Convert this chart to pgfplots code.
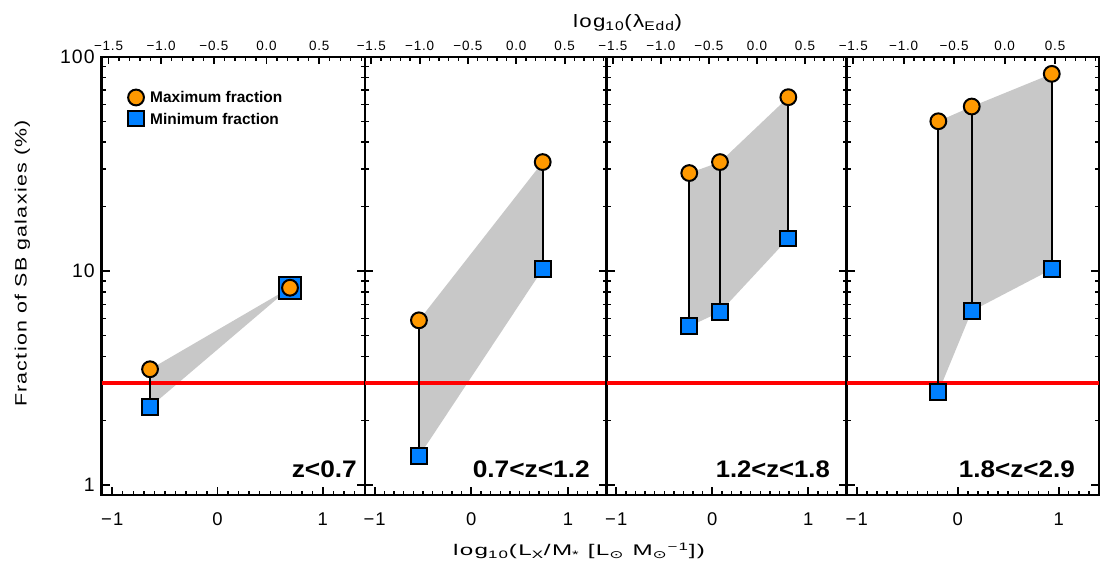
\documentclass[border=0pt]{standalone}
\usepackage{fontspec}
\usepackage{graphicx}
\usepackage{pgfplots}
\pgfplotsset{compat=1.18}
\setmainfont{Liberation Sans}
\newfontfamily\idl[LetterSpace=6]{Liberation Sans}
\newfontfamily\djv{DejaVu Sans}
\definecolor{mkorange}{RGB}{255,153,0}
\definecolor{mkblue}{RGB}{0,128,255}
\definecolor{fillgray}{RGB}{200,200,200}
\newcommand{\fs}[1]{\fontsize{#1}{#1}\selectfont}
\newcommand{\fitw}[2]{\resizebox{#1}{\height}{#2}}
\tikzset{
  maxmk/.style={mark=*, mark size=7.9bp, mark options={fill=mkorange, draw=black, line width=2bp}},
  minmk/.style={mark=square*, mark size=7.9bp, mark options={fill=mkblue, draw=black, line width=2bp}},
  conn/.style={black, line width=1.8bp},
  shadearea/.style={fill=fillgray, draw=none},
  redline/.style={red, line width=3.5bp},
  plab/.style={anchor=base east, inner sep=0pt, font=\bfseries\fs{24}},
  leglab/.style={anchor=west, inner sep=0pt, font=\bfseries\fs{15.5}},
}
\begin{document}
\begin{tikzpicture}[x=1bp,y=1bp]
\path[use as bounding box] (-101.7,-77) rectangle (1003.3,495);
\begin{scope}
\pgfplotsset{every axis/.append style={
    scale only axis, height=438bp, xmin=-1.1, xmax=1.4,
    ymode=log, ymin=0.9, ymax=100,
    axis line style={line width=2.5bp},
    xtick={-1,0,1}, xticklabels={−1,0,1},
    minor xtick={-1.1,-1,...,1.41},
    ytick={1,10,100}, yticklabels={},
    minor ytick={2,3,...,9,20,30,...,90},
    xtick pos=left, ytick pos=both,
    tick align=inside,
    major tick length=8bp, minor tick length=4bp,
    every major tick/.append style={black, line width=1.8bp},
    every minor tick/.append style={black, line width=1.4bp},
    xticklabel style={font=\idl\fs{18.5}, yshift=-14bp},
    yticklabel style={font=\idl\fs{19.5}, xshift=-3.4bp},
    anchor=south west,
}}
% ---------- Panel 1 ----------
\begin{axis}[name=p1, width=263.3bp, at={(0,0)}, yticklabels={1,10,100}]
\addplot[shadearea] coordinates {(-0.641,3.48)(0.688,8.36)(0.688,8.36)(-0.641,2.32)};
\addplot[redline] coordinates {(-1.1,3)(1.4,3)};
\addplot[only marks, minmk, mark size=11bp] coordinates {(0.688,8.36)};
\addplot[only marks, minmk] coordinates {(-0.641,2.32)};
\addplot[only marks, maxmk] coordinates {(-0.641,3.48)(0.688,8.36)};
\addplot[conn] coordinates {(-0.641,2.32)(-0.641,3.48)};
% legend symbols
\addplot[only marks, maxmk] coordinates {(-0.774,64.7)};
\addplot[only marks, minmk] coordinates {(-0.774,51.6)};
\node[leglab] at (axis cs:-0.641,64.7) {Maximum fraction};
\node[leglab] at (axis cs:-0.641,51.6) {Minimum fraction};
\node[plab] at ([xshift=-8bp,yshift=17bp]rel axis cs:1,0) {\fitw{65bp}{z<0.7}};
\end{axis}
% ---------- Panel 2 ----------
\begin{axis}[name=p2, width=241.7bp, at={(p1.south east)}]
\addplot[shadearea] coordinates {(-0.542,5.89)(0.738,32.3)(0.738,10.2)(-0.542,1.365)};
\addplot[redline] coordinates {(-1.1,3)(1.4,3)};
\addplot[only marks, minmk] coordinates {(-0.542,1.365)(0.738,10.2)};
\addplot[only marks, maxmk] coordinates {(-0.542,5.89)(0.738,32.3)};
\addplot[conn] coordinates {(-0.542,1.365)(-0.542,5.89)};
\addplot[conn] coordinates {(0.738,10.2)(0.738,32.3)};
\node[plab] at ([xshift=-16.7bp,yshift=17bp]rel axis cs:1,0) {\fitw{117bp}{0.7<z<1.2}};
\end{axis}
% ---------- Panel 3 ----------
\begin{axis}[name=p3, width=240bp, at={(p2.south east)}]
\addplot[shadearea] coordinates {(-0.24,28.7)(0.08,32.3)(0.792,64.9)(0.792,14.2)(0.08,6.44)(-0.24,5.52)};
\addplot[redline] coordinates {(-1.1,3)(1.4,3)};
\addplot[only marks, minmk] coordinates {(-0.24,5.52)(0.08,6.44)(0.792,14.2)};
\addplot[only marks, maxmk] coordinates {(-0.24,28.7)(0.08,32.3)(0.792,64.9)};
\addplot[conn] coordinates {(-0.24,5.52)(-0.24,28.7)};
\addplot[conn] coordinates {(0.08,6.44)(0.08,32.3)};
\addplot[conn] coordinates {(0.792,14.2)(0.792,64.9)};
\node[plab] at ([xshift=-16.7bp,yshift=17bp]rel axis cs:1,0) {\fitw{114bp}{1.2<z<1.8}};
\end{axis}
% ---------- Panel 4 ----------
\begin{axis}[name=p4, width=252.3bp, at={(p3.south east)}]
\addplot[shadearea] coordinates {(-0.192,50.1)(0.139,58.7)(0.932,83.4)(0.932,10.2)(0.139,6.51)(-0.192,2.72)};
\addplot[redline] coordinates {(-1.1,3)(1.4,3)};
\addplot[only marks, minmk] coordinates {(-0.192,2.72)(0.139,6.51)(0.932,10.2)};
\addplot[only marks, maxmk] coordinates {(-0.192,50.1)(0.139,58.7)(0.932,83.4)};
\addplot[conn] coordinates {(-0.192,2.72)(-0.192,50.1)};
\addplot[conn] coordinates {(0.139,6.51)(0.139,58.7)};
\addplot[conn] coordinates {(0.932,10.2)(0.932,83.4)};
\node[plab] at ([xshift=-24bp,yshift=17bp]rel axis cs:1,0) {\fitw{116bp}{1.8<z<2.9}};
\end{axis}
\end{scope}
\begin{scope}
\pgfplotsset{every axis/.append style={
    scale only axis, height=438bp, xmin=-1.565, xmax=0.935,
    ymin=0, ymax=1, axis x line*=top, axis y line=none,
    axis line style={line width=2.5bp},
    xtick={-1.5,-1,-0.5,0,0.5}, xticklabels={−1.5,−1.0,−0.5,0.0,0.5},
    minor xtick={-1.5,-1.4,...,0.91},
    tick align=inside,
    major tick length=7bp, minor tick length=4bp,
    every major tick/.append style={black, line width=1.8bp},
    every minor tick/.append style={black, line width=1.4bp},
    xticklabel style={font=\idl\fs{13.5}, yshift=2.7bp},
    anchor=south west,
}}
\begin{axis}[width=263.3bp, at={(p1.south west)}]
\addplot[draw=none] coordinates {(0,0.5)};
\end{axis}
\begin{axis}[width=241.7bp, at={(p2.south west)}]
\addplot[draw=none] coordinates {(0,0.5)};
\end{axis}
\begin{axis}[width=240bp, at={(p3.south west)}]
\addplot[draw=none] coordinates {(0,0.5)};
\end{axis}
\begin{axis}[width=252.3bp, at={(p4.south west)}]
\addplot[draw=none] coordinates {(0,0.5)};
\end{axis}
\end{scope}
% ---------- Titles ----------
\node[anchor=base, inner sep=0pt, font=\idl\fs{18}] at (525.8,467.5) {\fitw{109bp}{log\textsubscript{10}(λ\textsubscript{Edd})}};
\node[anchor=base, inner sep=0pt, font=\idl\fs{15.5}] at (477.3,-61) {\fitw{252bp}{log\textsubscript{10}(L\textsubscript{X}/M\textsubscript{*} [L\textsubscript{\djv ⊙} M\textsubscript{\djv ⊙}\textsuperscript{−1}])}};
\node[rotate=90, anchor=base, inner sep=0pt, font=\idl\fs{16.5}] at (-75,231.5) {\fitw{287bp}{Fraction of SB galaxies (\%)}};
\end{tikzpicture}
\end{document}
